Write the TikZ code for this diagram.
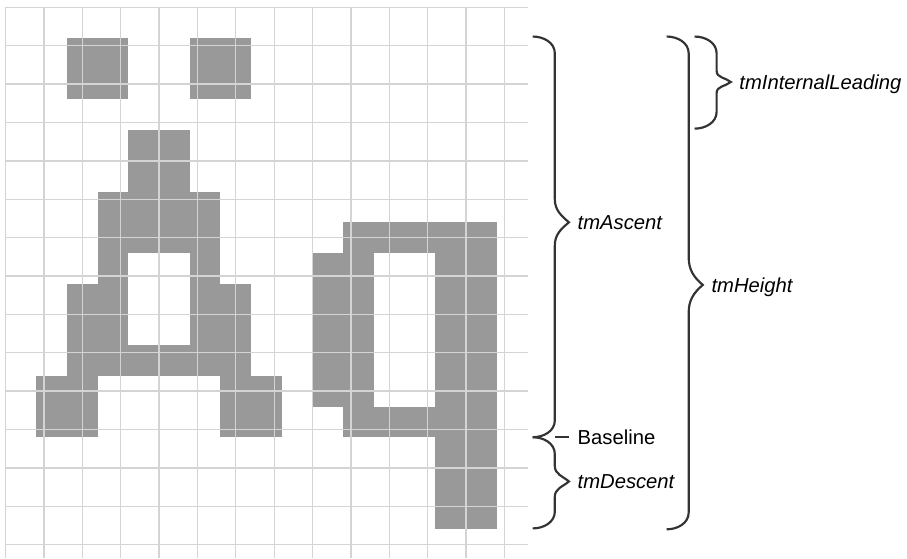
\documentclass[tikz,border=0pt]{standalone}
\usepackage{fontspec}
\setmainfont{Liberation Sans}
\usetikzlibrary{positioning}
\definecolor{pixgray}{RGB}{153,153,153}
\definecolor{gridgray}{RGB}{212,212,212}
\definecolor{inkgray}{RGB}{51,51,51}

% x, top, bottom, tip, half height of tip
\newcommand{\vbrace}[5]{%
  \draw[bracel] (#1,#2) to[out=0,in=90] ({#1+0.72},{#2-0.55})
    -- ({#1+0.72},{#4+#5}) to[out=-90,in=140] ({#1+1.18},#4)
    to[out=220,in=90] ({#1+0.72},{#4-#5})
    -- ({#1+0.72},{#3+0.55}) to[out=-90,in=0] (#1,#3);}

\begin{document}
\begin{tikzpicture}[x=0.8cm, y=0.8cm,
      pix/.style={fill=pixgray},
      gridline/.style={draw=gridgray, line width=1pt},
      bracel/.style={draw=inkgray, line width=1.6pt},
      lbl/.style={anchor=west, inner xsep=0.22cm, inner ysep=0pt,
                  text height=10.7pt, text depth=0pt,
                  font=\fontsize{15}{18}\selectfont\itshape}]

    \useasboundingbox (-0.18,-17.94) rectangle (29.36,0.24);

    % glyph cells
    \foreach \r/\cols in {1/{2,3,6,7}, 2/{2,3,6,7}, 4/{4,5}, 5/{4,5},
        6/{3,4,5,6}, 7/{3,4,5,6,11,12,13,14,15}, 8/{3,6,10,11,14,15},
        9/{2,3,6,7,10,11,14,15}, 10/{2,3,6,7,10,11,14,15},
        11/{2,3,4,5,6,7,10,11,14,15}, 12/{1,2,7,8,10,11,14,15},
        13/{1,2,7,8,11,12,13,14,15}, 14/{14,15}, 15/{14,15}, 16/{14,15}}
      \foreach \c in \cols
        \fill[pix] (\c,-\r) rectangle ++(1,-1);

    \draw[gridline] (0,0) grid (17,-17.94);

    % braces
    \vbrace{17.17}{-0.95}{-14}{-7}{0.75}
    \vbrace{17.17}{-14}{-16.97}{-15.44}{0.5}
    \vbrace{21.53}{-0.95}{-17}{-9.04}{0.9}
    \vbrace{22.44}{-0.95}{-3.95}{-2.43}{0.36}

    \node[lbl] (ascent)  at (18.35,-7)     {tmAscent};
    \node[lbl] (descent) at (18.35,-15.44) {tmDescent};
    \node[lbl] (height)  at (22.71,-9.04)  {tmHeight};
    \node[lbl] (leading) at (23.62,-2.43)  {tmInternalLeading};
    \node[lbl, font=\fontsize{15}{18}\selectfont] (baseline) at (18.35,-14) {Baseline};

    \coordinate (base) at (17.89,-14);
    \draw[bracel] (base) -- (baseline);
  \end{tikzpicture}
\end{document}
